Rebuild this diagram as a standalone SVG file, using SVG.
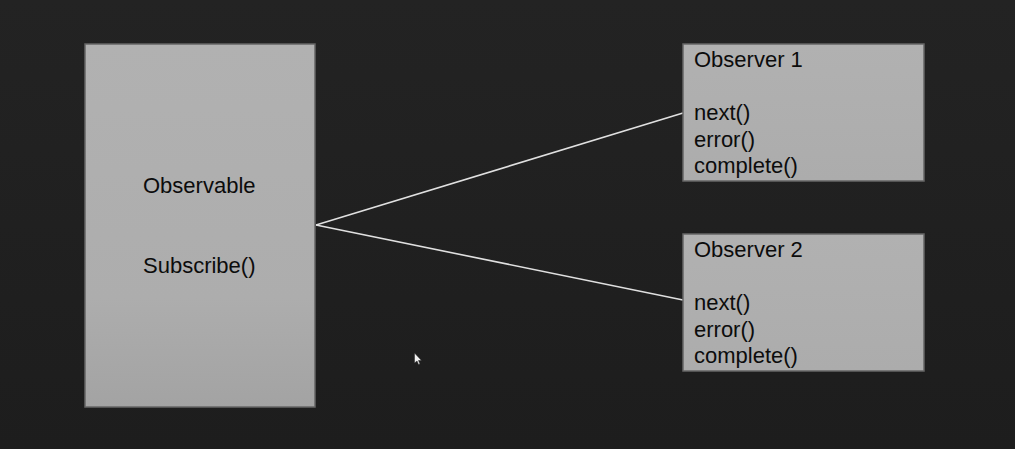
<svg xmlns="http://www.w3.org/2000/svg" width="1015" height="449" viewBox="0 0 1015 449">
  <defs>
    <linearGradient id="boxGrad" x1="0" y1="0" x2="0" y2="1">
      <stop offset="0" stop-color="#b1b1b1"/>
      <stop offset="0.7" stop-color="#adadad"/>
      <stop offset="1" stop-color="#a3a3a3"/>
    </linearGradient>
    <linearGradient id="smallGrad" x1="0" y1="0" x2="0" y2="1">
      <stop offset="0" stop-color="#b1b1b1"/>
      <stop offset="1" stop-color="#acacac"/>
    </linearGradient>
    <linearGradient id="bgGrad" x1="0" y1="0" x2="0" y2="1">
      <stop offset="0" stop-color="#232323"/>
      <stop offset="1" stop-color="#1d1d1d"/>
    </linearGradient>
  </defs>
  <style>
    .box { fill: url(#boxGrad); stroke: #666666; stroke-width: 1.5; }
    .sbox { fill: url(#smallGrad); stroke: #666666; stroke-width: 1.5; }
    .txt { font-family: "Liberation Sans", Arial, sans-serif; font-size: 22px; fill: #0c0c0c; }
    .conn { stroke: #e0e0e0; stroke-width: 1.6; fill: none; }
  </style>
  <rect x="0" y="0" width="1015" height="449" fill="url(#bgGrad)"/>

  <g id="connectors">
    <line class="conn" x1="316" y1="225" x2="683" y2="113"/>
    <line class="conn" x1="316" y1="225" x2="683" y2="300"/>
  </g>

  <g id="observable">
    <rect class="box" x="85" y="44" width="230" height="363"/>
    <text class="txt" x="143" y="193">Observable</text>
    <text class="txt" x="143" y="273">Subscribe()</text>
  </g>

  <g id="observer1">
    <rect class="sbox" x="683" y="44" width="241" height="137"/>
    <text class="txt" x="694" y="67">Observer 1</text>
    <text class="txt" x="694" y="120">next()</text>
    <text class="txt" x="694" y="147">error()</text>
    <text class="txt" x="694" y="173">complete()</text>
  </g>

  <g id="observer2">
    <rect class="sbox" x="683" y="234" width="241" height="137"/>
    <text class="txt" x="694" y="257">Observer 2</text>
    <text class="txt" x="694" y="310">next()</text>
    <text class="txt" x="694" y="337">error()</text>
    <text class="txt" x="694" y="363">complete()</text>
  </g>

  <polygon points="414.5,353 414.5,363 417,361 418.5,364.5 420,364 418.5,360.5 421.5,360.5" fill="#f0f0f0" stroke="#222" stroke-width="0.5"/>
</svg>
